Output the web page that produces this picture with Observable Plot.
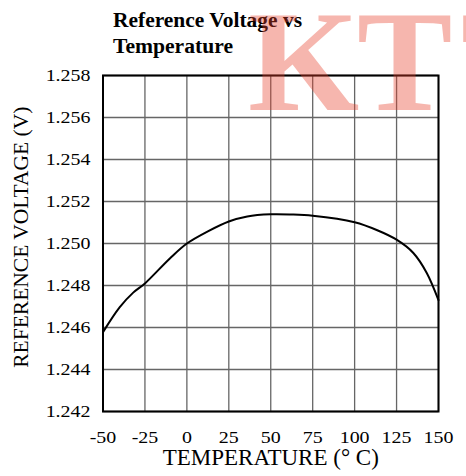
<!DOCTYPE html>
<html><head><meta charset="utf-8">
<script src="https://cdn.jsdelivr.net/npm/d3@7"></script>
<script src="https://cdn.jsdelivr.net/npm/@observablehq/plot@0.6"></script>
<style>
html,body{margin:0;padding:0;background:#fff;}
#chart{width:466px;height:476px;position:relative;overflow:hidden;}
</style></head><body><div id="chart"></div>
<script>
// ---- data ----
const temperatures = [-50, -40, -32, -25, -10, 0, 12.5, 25, 36, 50, 62, 75, 100, 113.5, 125, 135, 143, 150];
const voltages = [1.24578, 1.24697, 1.24766, 1.2481, 1.2493, 1.2500, 1.25058, 1.25105, 1.25129, 1.25139, 1.25138, 1.25132, 1.25101, 1.25063, 1.25018, 1.24955, 1.24860, 1.2473];
const xTicks = [-50, -25, 0, 25, 50, 75, 100, 125, 150];
const yTicks = [1.242, 1.244, 1.246, 1.248, 1.250, 1.252, 1.254, 1.256, 1.258];
const titleLines = ["Reference Voltage vs", "Temperature"];
const xLabel = "TEMPERATURE (° C)";
const yLabel = "REFERENCE VOLTAGE (V)";
const watermark = "KTT";

const data = temperatures.map((t, i) => ({t, v: voltages[i]}));
const serif = "'Liberation Serif', 'Times New Roman', Times, serif";

const plot = Plot.plot({
  width: 466, height: 476,
  marginLeft: 102.5, marginRight: 28, marginTop: 75, marginBottom: 65,
  style: {fontFamily: serif, fontSize: "17.5px", color: "#000", background: "#fff", overflow: "visible"},
  x: {domain: [-50, 150], label: null},
  y: {domain: [1.242, 1.258], label: null},
  marks: [
    Plot.gridX(xTicks, {stroke: "#666", strokeOpacity: 1, strokeWidth: 1.3}),
    Plot.gridY(yTicks, {stroke: "#666", strokeOpacity: 1, strokeWidth: 1.3}),
    Plot.line(data, {x: "t", y: "v", curve: "catmull-rom", stroke: "#000", strokeWidth: 2}),
    Plot.frame({stroke: "#000", strokeWidth: 2}),
    Plot.axisX(xTicks, {tickSize: 0, tickPadding: 19, label: null, fontSize: 17.5, tickFormat: d => String(d)}),
    Plot.axisY(yTicks, {tickSize: 0, tickPadding: 12.5, label: null, fontSize: 17.5, tickFormat: d3.format(".3f")}),
    Plot.text([xLabel], {frameAnchor: "bottom", textAnchor: "middle", lineAnchor: "middle", dy: 46, fontSize: 23, ariaLabel: "x-label", fill: "#000"}),
    Plot.text([yLabel], {frameAnchor: "left", textAnchor: "middle", lineAnchor: "middle", rotate: -90, dx: -82, dy: -6.3, fontSize: 21.5, ariaLabel: "y-label", fill: "#000"})
  ]
});

const svg = d3.select(plot);
// stretch tick labels horizontally like the reference
svg.selectAll('g[aria-label="x-axis tick label"] text, g[aria-label="y-axis tick label"] text').each(function() {
  const t = this.getAttribute("transform");
  if (t) this.setAttribute("transform", t + " scale(1.14,1)");
});
svg.select('g[aria-label="x-label"] text').attr("textLength", 197).attr("lengthAdjust", "spacingAndGlyphs");
svg.select('g[aria-label="y-label"] text').attr("textLength", 313).attr("lengthAdjust", "spacingAndGlyphs");

// title
const title = svg.append("g").attr("font-family", serif).attr("font-weight", "bold").attr("font-size", 20)
  .attr("fill", "#000").attr("text-anchor", "start");
title.append("text").attr("x", 113).attr("y", 27.3).attr("textLength", 189).attr("lengthAdjust", "spacingAndGlyphs").text(titleLines[0]);
title.append("text").attr("x", 113).attr("y", 52.7).attr("textLength", 120).attr("lengthAdjust", "spacingAndGlyphs").text(titleLines[1]);

// watermark
svg.append("text")
  .attr("x", "248 357 461").attr("y", 110).attr("text-anchor", "start")
  .attr("font-family", serif).attr("font-weight", "bold").attr("font-size", 143)
  .attr("fill", "#e8402a").attr("fill-opacity", 0.38)
  .text(watermark);

document.getElementById("chart").appendChild(plot);
</script>
</body></html>
